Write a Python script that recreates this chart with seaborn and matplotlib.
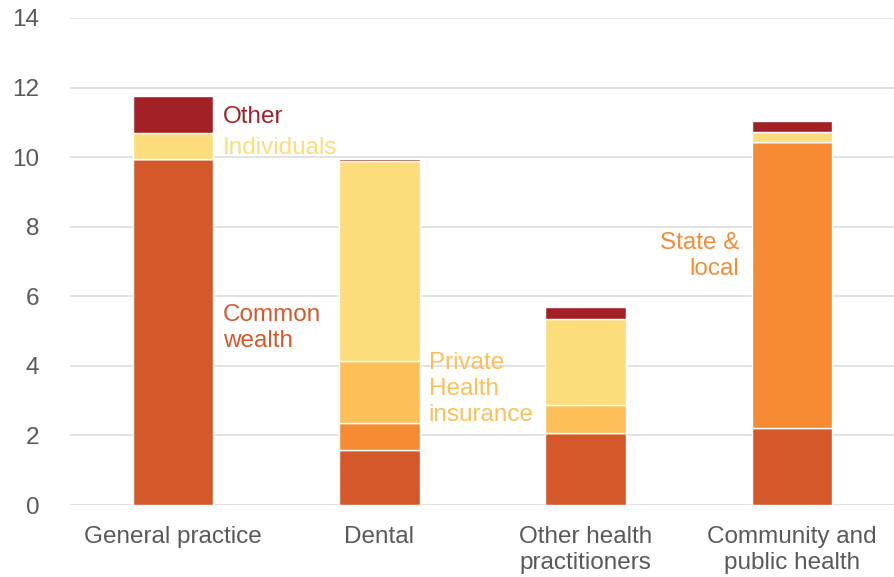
import matplotlib
matplotlib.use("Agg")
import matplotlib.pyplot as plt
import seaborn as sns
import numpy as np
import pandas as pd

categories = ["General practice", "Dental", "Other health\npractitioners", "Community and\npublic health"]
series = ["Commonwealth", "State & local", "Private Health insurance", "Individuals", "Other"]
commonwealth = [9.94, 1.58, 2.07, 2.21]
state_local = [0.0, 0.78, 0.0, 8.22]
private_health = [0.0, 1.78, 0.80, 0.0]
individuals = [0.75, 5.76, 2.47, 0.29]
other = [1.06, 0.06, 0.35, 0.31]
colors = ["#D4582A", "#F58B33", "#FDBF57", "#FDDC7B", "#A32126"]

sns.set_theme(style="white")
plt.rcParams["font.family"] = ["Liberation Sans", "DejaVu Sans"]

fig = plt.figure(figsize=(8.95, 5.77), dpi=100)
ax = fig.add_axes([70 / 895, 1 - 505 / 577, 1 - 70 / 895, (505 - 18) / 577])

vals = [commonwealth, state_local, private_health, individuals, other]
bottom = np.zeros(len(categories))
for name, v, c in zip(series, vals, colors):
    df = pd.DataFrame({"cat": categories, "val": v})
    sns.barplot(data=df, x="cat", y="val", color=c, bottom=bottom, width=0.39,
                edgecolor="white", linewidth=1, ax=ax, saturation=1)
    bottom = bottom + np.array(v)

ax.set_xlim(-0.5, 3.5)
ax.set_ylim(0, 14)
ax.set_yticks(range(0, 15, 2))
ax.yaxis.grid(True, color="#DDDDDD", linewidth=1.2)
ax.set_axisbelow(True)
for s in ax.spines.values():
    s.set_visible(False)
ax.set_xlabel("")
ax.set_ylabel("")
ax.tick_params(axis="both", colors="#595959", labelsize=17.5, length=0)
ax.tick_params(axis="y", pad=22)
ax.tick_params(axis="x", pad=15)
for t in ax.get_xticklabels():
    t.set_linespacing(1.25)

fs = 17.5
ax.text(0.24, 11.15, "Other", color="#A32126", fontsize=fs, va="center", ha="left")
ax.text(0.24, 10.25, "Individuals", color="#FDDC7B", fontsize=fs, va="center", ha="left")
ax.text(0.24, 5.08, "Common\nwealth", color="#D4582A", fontsize=fs, va="center", ha="left", linespacing=1.25)
ax.text(1.24, 3.33, "Private\nHealth\ninsurance", color="#FDBF57", fontsize=fs, va="center", ha="left", linespacing=1.25)
ax.text(2.745, 7.15, "State &\nlocal", color="#F58B33", fontsize=fs, va="center", ha="right", linespacing=1.25)

fig.savefig("out.png", dpi=100)
